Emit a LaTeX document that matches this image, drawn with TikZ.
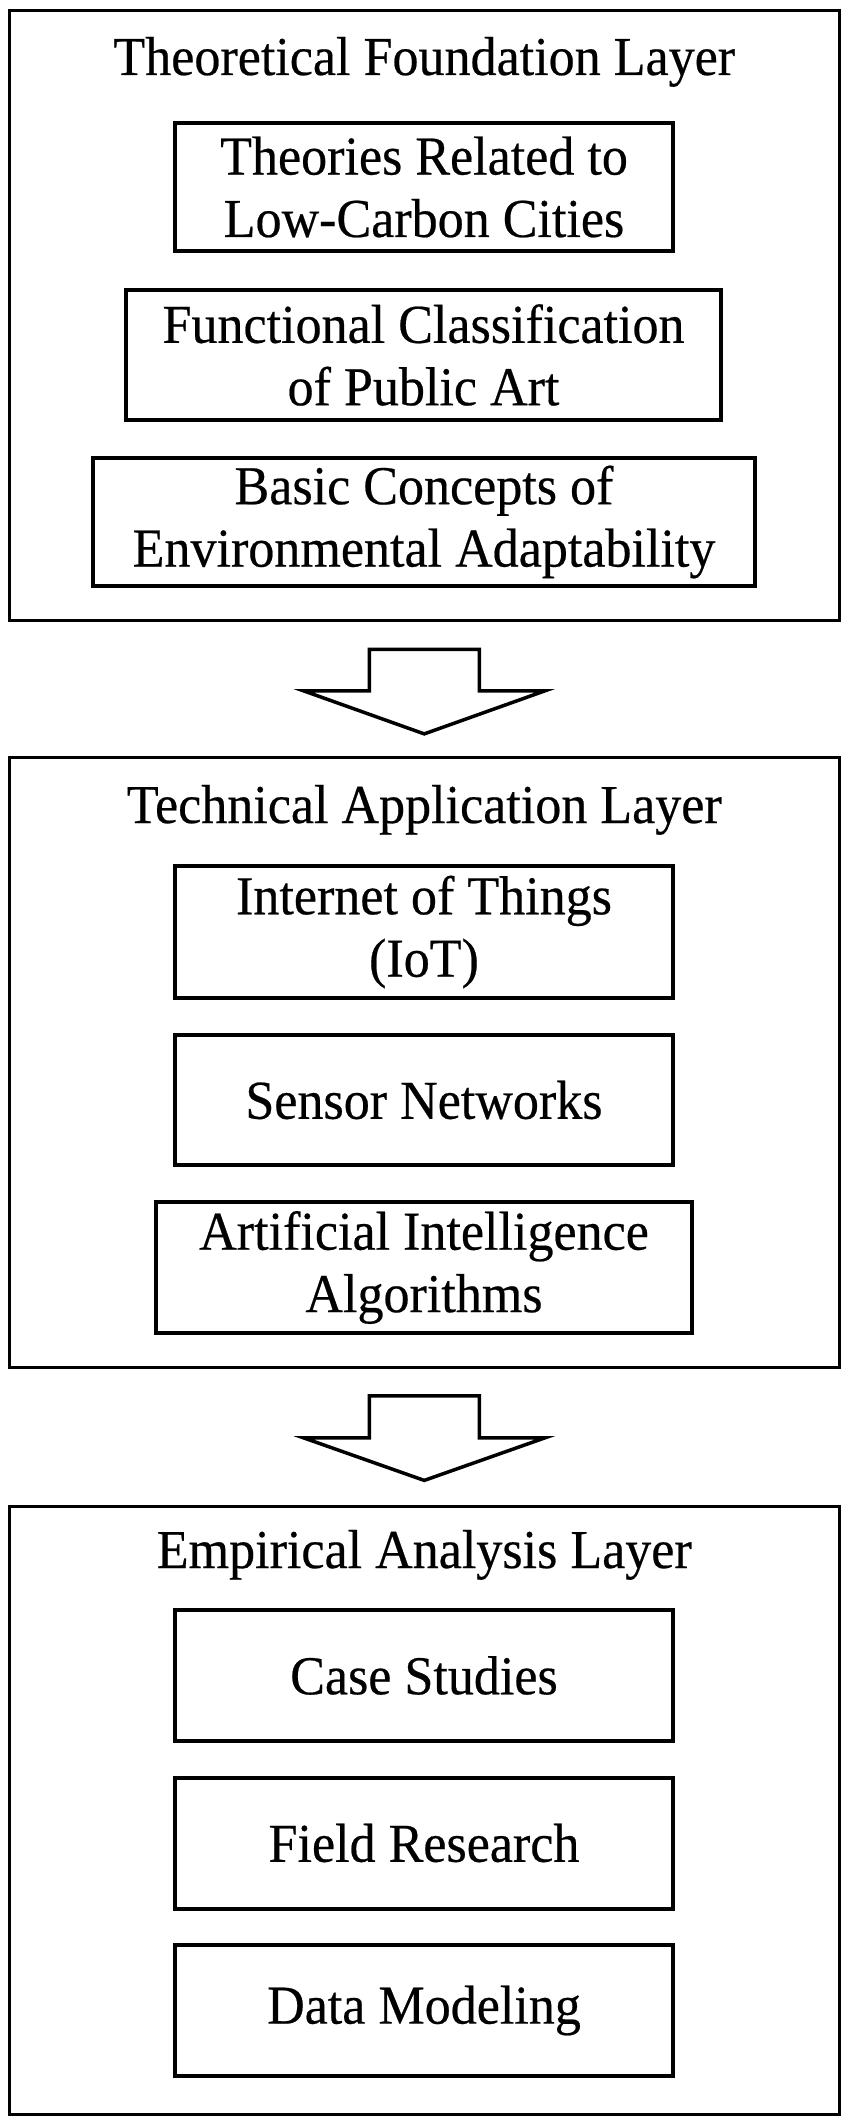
\documentclass[tikz,border=0pt]{standalone}
\usepackage{fontspec}
\setmainfont[FakeStretch=0.95,FakeBold=0.4]{Liberation Serif}
\usetikzlibrary{calc}
\begin{document}
\begin{tikzpicture}[x=0.5pt,y=-0.5pt,
  txt/.style={font=\fontsize{27.4}{31.2}\selectfont, align=center, inner sep=0pt},
  layerbox/.style={draw, line width=1.5pt, minimum width=414.75pt, minimum height=305pt, inner sep=0pt},
  itembox/.style={draw, line width=2pt, txt, minimum width=249pt, minimum height=65pt},
  title/.style={txt, anchor=base},
  bigarrow/.style={draw, line width=1.75pt, line join=miter, fill=white}]
\useasboundingbox (0,0) rectangle (850,2128);
\fill[white] (0,0) rectangle (850,2128);
% layers
\node[layerbox] (L1) at (424.25,315.4) {};
\node[layerbox] (L2) at (424.25,1062.9) {};
\node[layerbox, minimum height=304.2pt] (L3) at (424.25,1810.5) {};
% titles
\node[title] (T1) at (424.25,75) {Theoretical Foundation Layer};
\node[title] (T2) at (424.25,823) {Technical Application Layer};
\node[title] (T3) at (424.25,1568) {Empirical Analysis Layer};
% layer 1 items
\node[itembox, minimum height=64pt] (A1) at (424,187) {Theories Related to\\Low-Carbon Cities};
\node[itembox, minimum width=297.5pt] (A2) at (423.5,355) {Functional Classification\\of Public Art};
\node[itembox, minimum width=331pt, minimum height=64pt] (A3) at (424,522) {Basic Concepts of\\Environmental Adaptability};
% layer 2 items
\node[itembox, minimum height=66pt] (B1) at (424,932) {Internet of Things\\(IoT)};
\node[itembox] (B2) at (424,1100) {Sensor Networks};
\node[itembox, minimum width=268pt, minimum height=65.5pt] (B3) at (424,1267.5) {Artificial Intelligence\\Algorithms};
% layer 3 items
\node[itembox, minimum height=65.5pt] (C1) at (424,1675.5) {Case Studies};
\node[itembox, minimum height=65.5pt] (C2) at (424,1843) {Field Research};
\node[itembox, minimum height=65.5pt] (C3) at (424,2010.5) {Data Modeling};
% block arrows
\draw[bigarrow] ($(L1.south)+(-55,27.5)$) -- ($(L1.south)+(55,27.5)$) -- ($(L1.south)+(55,69)$) -- ($(L1.south)+(120.5,69)$) -- ($(L1.south)+(0,112)$) -- ($(L1.south)+(-120.5,69)$) -- ($(L1.south)+(-55,69)$) -- cycle;
\draw[bigarrow] ($(L2.south)+(-55,26.5)$) -- ($(L2.south)+(55,26.5)$) -- ($(L2.south)+(55,68.5)$) -- ($(L2.south)+(120.5,68.5)$) -- ($(L2.south)+(0,111)$) -- ($(L2.south)+(-120.5,68.5)$) -- ($(L2.south)+(-55,68.5)$) -- cycle;
\end{tikzpicture}
\end{document}
